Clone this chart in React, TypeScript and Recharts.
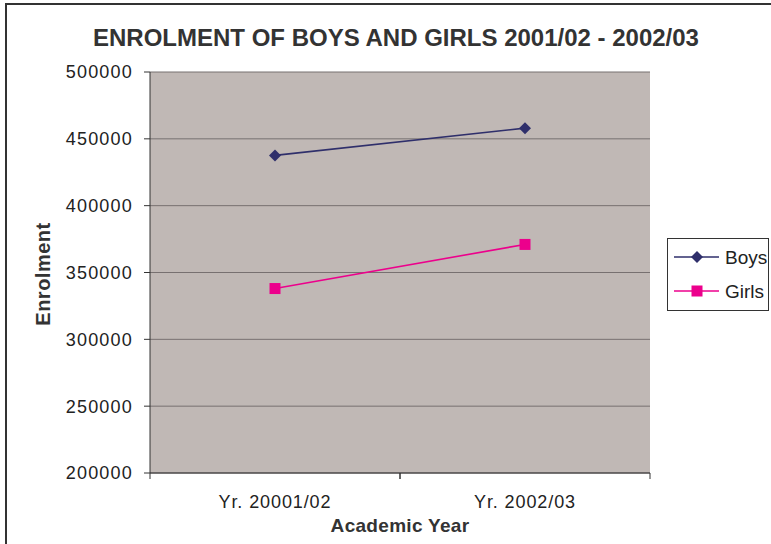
import { LineChart, Line, XAxis, YAxis, CartesianGrid } from 'recharts'

const years = ['Yr. 20001/02', 'Yr. 2002/03']
const boys = [437600, 458000]
const girls = [338000, 371000]
const yTicks = [200000, 250000, 300000, 350000, 400000, 450000, 500000]

const data = years.map((year, i) => ({ year, boys: boys[i], girls: girls[i] }))

const FONT = '"Liberation Sans", Arial, sans-serif'
const BOYS_COLOR = '#2F2F6B'
const GIRLS_COLOR = '#EC008C'
const PLOT_LEFT = 150
const PLOT_RIGHT = 650
const HALF_BAND = (PLOT_RIGHT - PLOT_LEFT) / years.length / 2

const Diamond = (props: any) => {
  const { cx, cy } = props
  if (cx == null || cy == null) return null
  const r = 6
  return (
    <path
      d={`M${cx},${cy - r}L${cx + r},${cy}L${cx},${cy + r}L${cx - r},${cy}Z`}
      fill={BOYS_COLOR}
    />
  )
}

const Square = (props: any) => {
  const { cx, cy } = props
  if (cx == null || cy == null) return null
  const s = 11
  return <rect x={cx - s / 2} y={cy - s / 2} width={s} height={s} fill={GIRLS_COLOR} />
}

const XTick = (props: any) => {
  const { x, y, payload } = props
  return (
    <g>
      <line x1={x - HALF_BAND} x2={x - HALF_BAND} y1={y - 6} y2={y} stroke="#333" />
      <line x1={x + HALF_BAND} x2={x + HALF_BAND} y1={y - 6} y2={y} stroke="#333" />
      <text
        x={x}
        y={y}
        dy={29}
        textAnchor="middle"
        fontSize={18}
        letterSpacing={0.9}
        fill="#222"
        fontFamily={FONT}
      >
        {payload.value}
      </text>
    </g>
  )
}

const LegendBox = () => (
  <div
    style={{
      position: 'absolute',
      left: 667,
      top: 238,
      width: 102,
      height: 73,
      border: '1px solid #333',
      background: '#fff',
      boxSizing: 'border-box',
    }}
  >
    <svg width={100} height={71} style={{ display: 'block' }}>
      <line x1={6} x2={51} y1={18} y2={18} stroke={BOYS_COLOR} strokeWidth={1.5} />
      <path d="M29,12L35,18L29,24L23,18Z" fill={BOYS_COLOR} />
      <text x={57} y={25} fontSize={19} fill="#222" fontFamily={FONT}>Boys</text>
      <line x1={6} x2={51} y1={52} y2={52} stroke={GIRLS_COLOR} strokeWidth={1.5} />
      <rect x={23.5} y={46.5} width={11} height={11} fill={GIRLS_COLOR} />
      <text x={57} y={59} fontSize={19} fill="#222" fontFamily={FONT}>Girls</text>
    </svg>
  </div>
)

export default function App() {
  return (
    <div style={{ position: 'fixed', left: 0, top: 0, width: 771, height: 544, overflow: 'hidden', background: '#fff' }}>
      <div
        style={{
          position: 'absolute',
          left: 5,
          top: 3,
          width: 800,
          height: 600,
          border: '2px solid #333',
        }}
      />
      <div
        style={{
          position: 'absolute',
          left: 0,
          width: 792,
          top: 24,
          textAlign: 'center',
          fontFamily: FONT,
          fontWeight: 'bold',
          fontSize: 24,
          color: '#333',
          whiteSpace: 'nowrap',
        }}
      >
        ENROLMENT OF BOYS AND GIRLS 2001/02 - 2002/03
      </div>
      <div
        style={{
          position: 'absolute',
          left: 43,
          top: 274,
          transform: 'translate(-50%, -50%) rotate(-90deg)',
          fontFamily: FONT,
          fontWeight: 'bold',
          fontSize: 20,
          letterSpacing: 0.5,
          color: '#333',
          whiteSpace: 'nowrap',
        }}
      >
        Enrolment
      </div>
      <div
        style={{
          position: 'absolute',
          left: 400,
          top: 526,
          transform: 'translate(-50%, -50%)',
          fontFamily: FONT,
          fontWeight: 'bold',
          fontSize: 19,
          letterSpacing: 0.3,
          color: '#333',
          whiteSpace: 'nowrap',
        }}
      >
        Academic Year
      </div>
      <div style={{ position: 'absolute', left: 0, top: 0 }}>
        <LineChart width={771} height={544} data={data} margin={{ top: 72, right: 121, left: 90, bottom: 21 }}>
          <CartesianGrid vertical={false} stroke="#777070" fill="#C0B8B5" fillOpacity={1} />
          <XAxis
            dataKey="year"
            height={50}
            padding={{ left: HALF_BAND, right: HALF_BAND }}
            axisLine={{ stroke: '#333' }}
            tickLine={false}
            tickSize={6}
            tickMargin={0}
            tick={<XTick />}
            interval={0}
          />
          <YAxis
            width={60}
            domain={[200000, 500000]}
            ticks={yTicks}
            interval={0}
            axisLine={{ stroke: '#333' }}
            tickLine={{ stroke: '#333' }}
            tickSize={6}
            tickMargin={11}
            tick={{ fontSize: 18, fill: '#222', fontFamily: FONT, letterSpacing: 1.2 }}
          />
          <YAxis
            yAxisId="r"
            orientation="right"
            width={0}
            domain={[200000, 500000]}
            tick={false}
            tickLine={false}
            axisLine={{ stroke: '#8a8282' }}
          />
          <Line
            dataKey="boys"
            stroke={BOYS_COLOR}
            strokeWidth={1.6}
            dot={<Diamond />}
            activeDot={false}
            isAnimationActive={false}
          />
          <Line
            dataKey="girls"
            stroke={GIRLS_COLOR}
            strokeWidth={1.6}
            dot={<Square />}
            activeDot={false}
            isAnimationActive={false}
          />
        </LineChart>
      </div>
      <LegendBox />
    </div>
  )
}
